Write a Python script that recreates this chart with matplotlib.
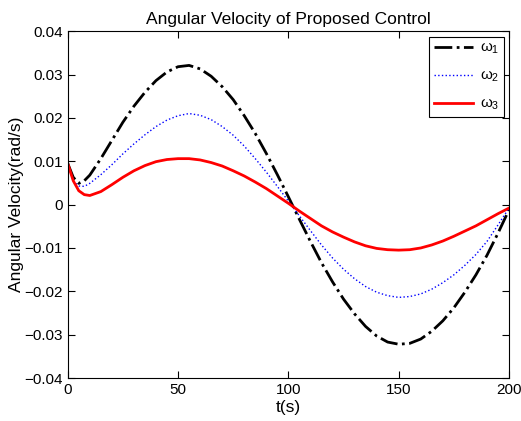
import numpy as np
import matplotlib
matplotlib.use('Agg')
import matplotlib.pyplot as plt

plt.rcParams['font.family'] = ['Liberation Sans', 'DejaVu Sans']
plt.rcParams['mathtext.fontset'] = 'custom'
plt.rcParams['mathtext.rm'] = 'Liberation Sans'
plt.rcParams['mathtext.it'] = 'Liberation Sans'

# time samples (s)
t = [0, 2.5, 5, 7.5, 10, 15, 20, 25, 30, 35, 40, 45, 50, 55, 60, 65, 70, 75, 80,
     85, 90, 95, 100, 105, 110, 115, 120, 125, 130, 135, 140, 145, 150, 155, 160,
     165, 170, 175, 180, 185, 190, 195, 200]

# angular velocities (rad/s)
w1 = [0.0095, 0.0063, 0.0049, 0.0055, 0.0068, 0.0106, 0.0148, 0.0190, 0.0227,
      0.0259, 0.0286, 0.0306, 0.0318, 0.0321, 0.0313, 0.0296, 0.0272, 0.0242,
      0.0205, 0.0164, 0.0118, 0.0069, 0.0018, -0.0034, -0.0085, -0.0134,
      -0.0178, -0.0218, -0.0252, -0.0281, -0.0303, -0.0317, -0.0322, -0.0320,
      -0.0310, -0.0292, -0.0268, -0.0238, -0.0202, -0.0162, -0.0117, -0.0066,
      -0.0012]
w2 = [0.0095, 0.0055, 0.0043, 0.0042, 0.0049, 0.0069, 0.0092, 0.0117, 0.0140,
      0.0161, 0.0180, 0.0195, 0.0205, 0.0210, 0.0206, 0.0196, 0.0180, 0.0160,
      0.0135, 0.0106, 0.0075, 0.0042, 0.0008, -0.0026, -0.0060, -0.0093,
      -0.0123, -0.0149, -0.0171, -0.0189, -0.0202, -0.0210, -0.0214, -0.0212,
      -0.0206, -0.0195, -0.0180, -0.0162, -0.0140, -0.0115, -0.0085, -0.0047,
      -0.0008]
w3 = [0.0095, 0.0055, 0.0032, 0.0023, 0.0021, 0.0030, 0.0046, 0.0063, 0.0078,
      0.0090, 0.0099, 0.0104, 0.0106, 0.0106, 0.0103, 0.0097, 0.0089, 0.0078,
      0.0066, 0.0052, 0.0037, 0.0020, 0.0003, -0.0015, -0.0032, -0.0049,
      -0.0063, -0.0075, -0.0086, -0.0095, -0.0101, -0.0104, -0.0105, -0.0104,
      -0.0100, -0.0093, -0.0084, -0.0073, -0.0061, -0.0049, -0.0035, -0.0021,
      -0.0008]

fig = plt.figure(figsize=(5.21, 4.21), dpi=100)
ax = fig.add_axes([0.130, 0.102, 0.847, 0.824])

ax.plot(t, w1, 'k-.', lw=2, label=r'$\omega_1$')
ax.plot(t, w2, color='b', linestyle=':', lw=1, label=r'$\omega_2$')
ax.plot(t, w3, 'r-', lw=2, label=r'$\omega_3$')

ax.set_xlim(0, 200)
ax.set_ylim(-0.04, 0.04)
ax.set_xticks([0, 50, 100, 150, 200])
ax.set_yticks(np.arange(-0.04, 0.041, 0.01))
ax.set_yticklabels(['\u22120.04', '\u22120.03', '\u22120.02', '\u22120.01', '0',
                    '0.01', '0.02', '0.03', '0.04'])
ax.tick_params(direction='in', top=True, right=True, labelsize=11, length=5)
ax.set_xlabel('t(s)', fontsize=12.5, labelpad=2)
ax.set_ylabel('Angular Velocity(rad/s)', fontsize=12.5, labelpad=0)
ax.set_title('Angular Velocity of Proposed Control', fontsize=12.5, pad=5)

leg = ax.legend(loc='upper right', fontsize=11, handlelength=2.55,
                handletextpad=0.45, labelspacing=0.82, borderpad=0.3,
                fancybox=False, framealpha=1, edgecolor='k', borderaxespad=0.35)
leg.get_frame().set_linewidth(0.8)

plt.savefig('out.png', dpi=100)
